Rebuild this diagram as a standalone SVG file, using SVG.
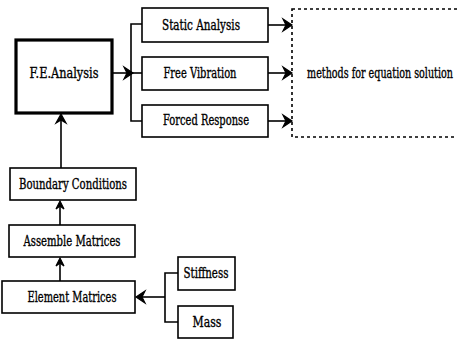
<svg xmlns="http://www.w3.org/2000/svg" width="457" height="340" viewBox="0 0 457 340">
  <style>
    .box { fill: #fff; stroke: #000; stroke-width: 1.6; }
    .thick { fill: #fff; stroke: #000; stroke-width: 3.2; }
    .dash { fill: none; stroke: #000; stroke-width: 1.6; stroke-dasharray: 3 3; }
    .wire { fill: none; stroke: #000; stroke-width: 1.6; }
    .head { fill: #000; stroke: #000; stroke-width: 1.2; stroke-linejoin: miter; }
    .lbl { font-family: "DejaVu Serif", "Liberation Serif", serif; font-size: 14px; fill: #000; stroke: #000; stroke-width: 0.35; text-anchor: middle; }
  </style>
  <rect width="457" height="340" fill="#fff"/>

  <g id="connectors">
    <!-- F.E.Analysis to the three analysis types -->
    <line class="wire" x1="112" y1="73" x2="142" y2="73"/>
    <path class="head" d="M124,67 L133,73 L124,79 L127,73 Z"/>
    <polyline class="wire" points="142,24 131,24 131,121 142,121"/>
    <!-- analysis types to solution methods -->
    <line class="wire" x1="268" y1="25" x2="290" y2="25"/>
    <path class="head" d="M283,19 L292,25 L283,31 L286,25 Z"/>
    <line class="wire" x1="268" y1="73" x2="290" y2="73"/>
    <path class="head" d="M283,67 L292,73 L283,79 L286,73 Z"/>
    <line class="wire" x1="268" y1="121" x2="290" y2="121"/>
    <path class="head" d="M283,115 L292,121 L283,127 L286,121 Z"/>
    <!-- bottom-up chain -->
    <line class="wire" x1="61" y1="116" x2="61" y2="168"/>
    <path class="head" d="M56,123 L61,114 L66,123 L61,120 Z"/>
    <line class="wire" x1="60" y1="203" x2="60" y2="225"/>
    <path class="head" d="M56,209 L60,201 L64,209 L60,206 Z"/>
    <line class="wire" x1="60" y1="260" x2="60" y2="281"/>
    <path class="head" d="M56,266 L60,258 L64,266 L60,263 Z"/>
    <!-- stiffness and mass into element matrices -->
    <line class="wire" x1="138" y1="297" x2="165" y2="297"/>
    <path class="head" d="M145,291 L136,297 L145,303 L142,297 Z"/>
    <polyline class="wire" points="178,273 165,273 165,322 178,322"/>
  </g>

  <g id="fe-analysis">
    <rect class="thick" x="16" y="40" width="96" height="73"/>
    <text class="lbl" x="64" y="78" textLength="69" lengthAdjust="spacingAndGlyphs">F.E.Analysis</text>
  </g>

  <g id="static-analysis">
    <rect class="box" x="142" y="8" width="126" height="34"/>
    <text class="lbl" x="201" y="30" textLength="78" lengthAdjust="spacingAndGlyphs">Static Analysis</text>
  </g>

  <g id="free-vibration">
    <rect class="box" x="142" y="57" width="126" height="33"/>
    <text class="lbl" x="200" y="78" textLength="73" lengthAdjust="spacingAndGlyphs">Free Vibration</text>
  </g>

  <g id="forced-response">
    <rect class="box" x="142" y="105" width="126" height="32"/>
    <text class="lbl" x="206" y="125" textLength="86" lengthAdjust="spacingAndGlyphs">Forced Response</text>
  </g>

  <g id="equation-solution">
    <rect class="dash" x="292" y="9" width="200" height="128"/>
    <text class="lbl" transform="translate(380,78) scale(0.685,1)" x="0" y="0">methods for equation solution</text>
  </g>

  <g id="boundary-conditions">
    <rect class="box" x="10" y="168" width="126" height="32"/>
    <text class="lbl" x="73" y="189" textLength="108" lengthAdjust="spacingAndGlyphs">Boundary Conditions</text>
  </g>

  <g id="assemble-matrices">
    <rect class="box" x="9" y="225" width="126" height="32"/>
    <text class="lbl" x="72" y="246" textLength="97" lengthAdjust="spacingAndGlyphs">Assemble Matrices</text>
  </g>

  <g id="element-matrices">
    <rect class="box" x="2" y="281" width="133" height="32"/>
    <text class="lbl" x="72" y="302" textLength="89" lengthAdjust="spacingAndGlyphs">Element Matrices</text>
  </g>

  <g id="stiffness">
    <rect class="box" x="178" y="257" width="57" height="33"/>
    <text class="lbl" x="206" y="278" textLength="45" lengthAdjust="spacingAndGlyphs">Stiffness</text>
  </g>

  <g id="mass">
    <rect class="box" x="178" y="306" width="55" height="32"/>
    <text class="lbl" x="207" y="327" textLength="29" lengthAdjust="spacingAndGlyphs">Mass</text>
  </g>
</svg>
